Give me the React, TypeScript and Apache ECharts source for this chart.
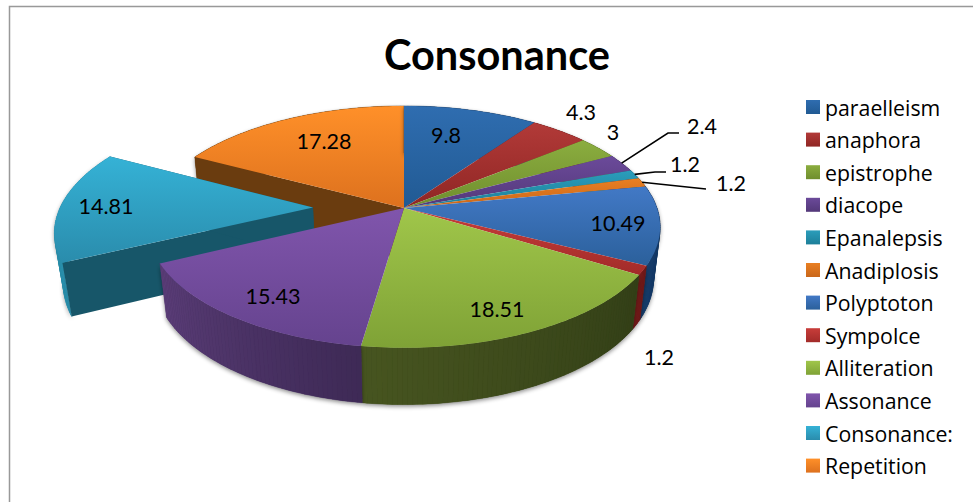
import React, { useEffect, useRef } from "react";
import * as echarts from "echarts";

// Share of each rhetorical device, in legend order.
const categories = [
  "paraelleism", "anaphora", "epistrophe", "diacope", "Epanalepsis", "Anadiplosis",
  "Polyptoton", "Sympolce", "Alliteration", "Assonance", "Consonance:", "Repetition",
];
const values = [9.8, 4.3, 3, 2.4, 1.2, 1.2, 10.49, 1.2, 18.51, 15.43, 14.81, 17.28];

// Painter's order for the pie: slices at the back first, the front wall last.
const drawOrder = [11, 10, 0, 1, 2, 3, 4, 5, 6, 7, 8, 9];
const explodedIndex = 10;
const explodeDistance = 0.36;

const topColors = [
  ["#2F6DB0", "#215A93"], ["#B23A38", "#8F2624"], ["#8BAD3F", "#6F8E2E"], ["#6B4A9A", "#533879"],
  ["#2B9DBB", "#1D7F99"], ["#E97F22", "#C9671A"], ["#4279C6", "#2B609B"], ["#C83D3A", "#A22B29"],
  ["#A0C64A", "#7FA236"], ["#8055AC", "#65438E"], ["#35B2D6", "#2A8CAC"], ["#FF9029", "#DD711E"],
];
const wallColors = [
  ["#173A63", "#173A63"], ["#6E1C1B", "#6E1C1B"], ["#566E25", "#566E25"], ["#3F2B5E", "#3F2B5E"],
  ["#165E73", "#165E73"], ["#8C4C12", "#8C4C12"], ["#102E54", "#183F6E"], ["#6A1817", "#7C1E1C"],
  ["#333F17", "#475520"], ["#3E2A56", "#5B3D78"], ["#2A8CA8", "#2E96B2"], ["#6A3C10", "#6A3C10"],
];
const radialWallColors: Record<number, string> = { 10: "#175669", 11: "#6A3C0F" };

// Label centres in page pixels, and which labels hang off a leader line.
const labelCentres = [
  [446, 135], [581, 112], [613, 132], [702, 126], [685, 164], [731, 183],
  [618, 223], [659, 357], [497, 309], [273, 296], [106, 206], [324, 141],
];
const leaderBends: Record<number, number[][]> = {
  3: [[668, 133], [679, 133]],
  4: [[655, 172], [666, 172]],
  5: [[706, 189]],
};

// Perspective projection of the pie disc.
const centreX = 404;
const centreY = 208;
const radiusX = 253;
const radiusY = 118;
const depth = 53;
const perspective = 0.156;
const floorShrink = 0.026;

function project(u: number, v: number, floor: number) {
  const w = 1 - perspective * v + floorShrink * floor;
  return [centreX + (radiusX * u) / w, centreY + (radiusY * v + depth * floor) / w];
}

function arcAngles(a: number, b: number) {
  const steps = Math.max(2, Math.ceil((b - a) / (Math.PI / 180)));
  const out: number[] = [];
  for (let i = 0; i <= steps; i++) out.push(a + ((b - a) * i) / steps);
  return out;
}

const total = values.reduce((s, x) => s + x, 0);
const starts: number[] = [];
values.reduce((acc, x, i) => {
  starts[i] = (acc / total) * Math.PI * 2;
  return acc + x;
}, 0);

function vertical(c: string[]) {
  return new echarts.graphic.LinearGradient(0, 0, 0, 1, [
    { offset: 0, color: c[0] },
    { offset: 1, color: c[1] },
  ]);
}

const labelFont = { fontFamily: "Lato", fontSize: 21.5, fill: "#000" };

function renderSlice(i: number) {
  const a = starts[i];
  const b = a + (values[i] / total) * Math.PI * 2;
  const mid = (a + b) / 2;
  const off = i === explodedIndex ? explodeDistance : 0;
  const ou = Math.sin(mid) * off;
  const ov = -Math.cos(mid) * off;
  const at = (t: number, floor: number, r = 1) =>
    project(ou + Math.sin(t) * r, ov - Math.cos(t) * r, floor);

  const children: any[] = [];
  const angles = arcAngles(a, b);

  // Soft shadow under the rim
  children.push({
    type: "polygon",
    shape: {
      points: [
        ...angles.map((t) => at(t, 0)),
        ...angles.slice().reverse().map((t) => at(t, 1)),
      ],
    },
    style: {
      fill: wallColors[i][0],
      shadowBlur: 4,
      shadowColor: "rgba(0,0,0,0.45)",
      shadowOffsetY: 2,
    },
  });

  // Outer rim, built from narrow strips so its silhouette stays true
  for (let k = 0; k + 1 < angles.length; k++) {
    const shade = echarts.color.lerp(k / (angles.length - 1), wallColors[i]);
    children.push({
      type: "polygon",
      shape: {
        points: [at(angles[k], 0), at(angles[k + 1], 0), at(angles[k + 1], 1), at(angles[k], 1)],
      },
      style: { fill: shade, stroke: shade, lineWidth: 0.4 },
    });
  }

  // Cut faces show only next to the slice that was pulled out
  const n = values.length;
  const exposed = (t: number) => ({
    type: "polygon",
    shape: { points: [at(t, 0, 0), at(t, 0), at(t, 1), at(t, 1, 0)] },
    style: { fill: radialWallColors[i] },
  });
  if (i === explodedIndex || (i - 1 + n) % n === explodedIndex) children.push(exposed(a));
  if (i === explodedIndex || (i + 1) % n === explodedIndex) children.push(exposed(b));

  // Top face
  children.push({
    type: "polygon",
    shape: { points: [at(0, 0, 0), ...angles.map((t) => at(t, 0))] },
    style: { fill: vertical(topColors[i]) },
  });

  // Leader line
  if (leaderBends[i]) {
    children.push({
      type: "polyline",
      shape: { points: [at(mid, 0), ...leaderBends[i]] },
      style: { stroke: "#000", lineWidth: 1.6, fill: "none" },
    });
  }

  // Value label
  children.push({
    type: "text",
    x: labelCentres[i][0],
    y: labelCentres[i][1],
    style: { ...labelFont, text: String(values[i]), align: "center", verticalAlign: "middle" },
  });

  return { type: "group", children };
}

export default function App() {
  const ref = useRef<HTMLDivElement>(null);

  useEffect(() => {
    document.body.style.margin = "0";
    const chart = echarts.init(ref.current!, undefined, { renderer: "svg" });
    chart.setOption({
      animation: false,
      backgroundColor: "#fff",
      title: {
        text: "Consonance",
        left: 384,
        top: 33,
        padding: 0,
        textStyle: { fontFamily: "Lato", fontWeight: "bold", fontSize: 41.5, color: "#000" },
      },
      legend: {
        data: categories,
        orient: "vertical",
        left: 806,
        top: 96.5,
        padding: 0,
        icon: "rect",
        itemWidth: 14,
        itemHeight: 14,
        itemGap: 11.6,
        selectedMode: false,
        textStyle: { fontFamily: "Open Sans", fontSize: 21.3, lineHeight: 20, color: "#000" },
      },
      graphic: [
        {
          type: "polyline",
          silent: true,
          shape: { points: [[9.5, 502], [9.5, 6.5], [973, 6.5]] },
          style: { stroke: "#999", lineWidth: 1.5, fill: "none" },
        },
      ],
      series: drawOrder.map((i) => ({
        type: "custom",
        name: categories[i],
        coordinateSystem: "none",
        silent: true,
        itemStyle: { color: vertical(topColors[i]) },
        data: [values[i]],
        renderItem: () => renderSlice(i),
      })),
    });
    return () => chart.dispose();
  }, []);

  return <div ref={ref} style={{ width: 973, height: 502 }} />;
}
